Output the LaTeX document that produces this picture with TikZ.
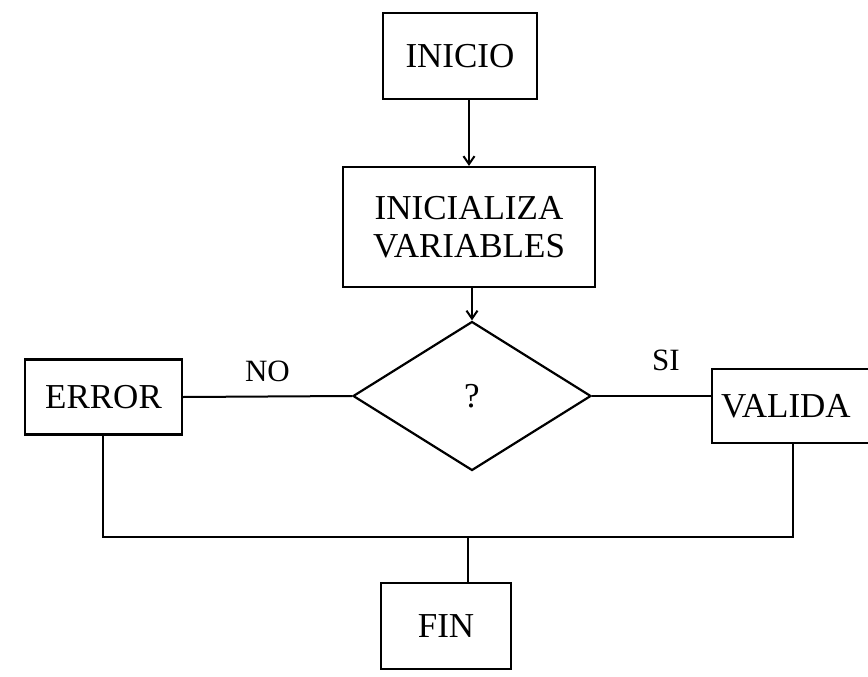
\documentclass[tikz,border=0pt]{standalone}
\usepackage{fontspec}
\setmainfont{Liberation Serif}
\usetikzlibrary{shapes.geometric,arrows.meta}

\begin{document}
\begin{tikzpicture}[x=1pt,y=1pt,yscale=-1,xscale=1,
  caja/.style={draw,line width=2.2pt,inner sep=0pt,align=center,font=\fontsize{35}{37.5}\selectfont},
  linea/.style={line width=2pt},
  flecha/.style={linea,-{Straight Barb[length=8pt,width=11pt]}},
  etiqueta/.style={font=\fontsize{31}{34}\selectfont}]
%set diagram left start at 0, and has height of 677
\useasboundingbox (0,0) rectangle (868,677);

%Boxes
\node[caja,minimum width=154,minimum height=86] (inicio) at (460,56) {INICIO};
\node[caja,minimum width=252,minimum height=120] (inicializa) at (469,227) {INICIALIZA\\VARIABLES};
\node[caja,diamond,minimum width=238,minimum height=149] (pregunta) at (472,396) {?};
\node[caja,minimum width=157,minimum height=75] (error) at (103.5,397) {ERROR};
\node[caja,anchor=north west,text width=170,align=left,inner xsep=9pt,minimum height=74] (valida) at (711,368) {VALIDA};
\node[caja,minimum width=130,minimum height=86] (fin) at (446,626) {FIN};

%Junction points
\coordinate (izq) at (103,537);
\coordinate (der) at (793,537);
\coordinate (union) at (468,537);

%Connectors
\draw[flecha] (inicializa.north |- inicio.south) -- (inicializa.north);
\draw[flecha] (pregunta.north |- inicializa.south) -- (pregunta.north);
\draw[linea] (error.east) -- node[etiqueta,midway,above=10pt] {NO} (pregunta.west);
\draw[linea] (pregunta.east) -- node[etiqueta,pos=0.62,above=21pt] {SI} (pregunta.east -| valida.west);
\draw[linea] (error.south -| izq) -- (izq) -- (der) -- (valida.south -| der);
\draw[linea] (union) -- (union |- fin.north);

\end{tikzpicture}
\end{document}
